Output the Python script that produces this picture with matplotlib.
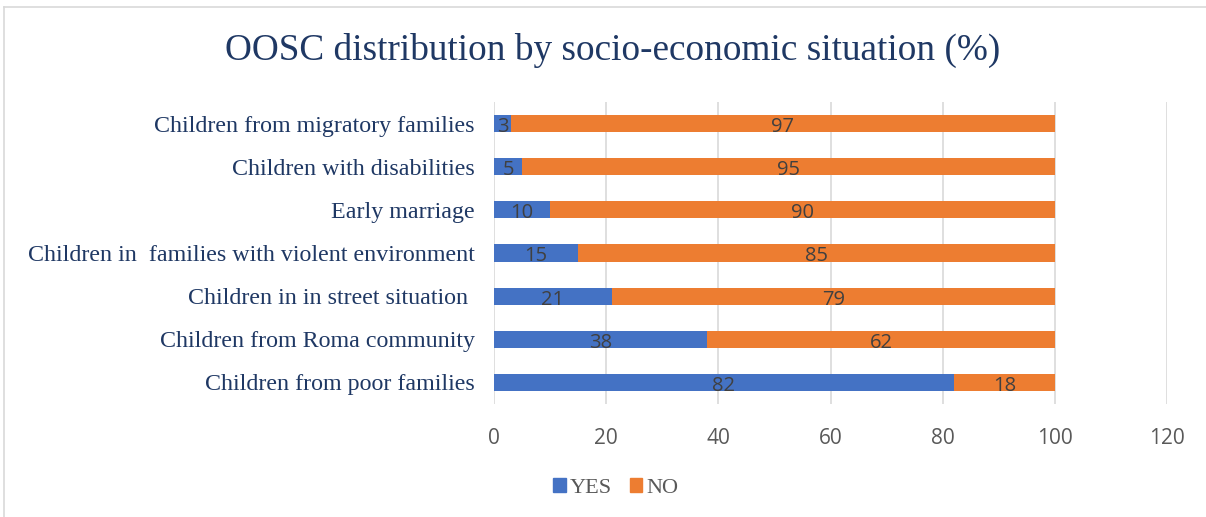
import matplotlib
matplotlib.use("Agg")
import matplotlib.pyplot as plt
from matplotlib.patches import Rectangle
from matplotlib.lines import Line2D

categories = [
    "Children from poor families",
    "Children from Roma community",
    "Children in in street situation ",
    "Children in  families with violent environment",
    "Early marriage",
    "Children with disabilities",
    "Children from migratory families",
]
yes_values = [82, 38, 21, 15, 10, 5, 3]
no_values = [18, 62, 79, 85, 90, 95, 97]
x_ticks = [0, 20, 40, 60, 80, 100, 120]

BLUE = "#4472C4"
ORANGE = "#ED7D31"
NAVY = "#1F3864"
GRID = "#D9D9D9"
TICK = "#595959"
LABEL = "#404040"

fig = plt.figure(figsize=(12.06, 5.17), dpi=100)
fig.patch.set_facecolor("white")

# outer chart frame
fig.add_artist(Line2D([4 / 1206, 1.0], [1 - 7 / 517] * 2, color=GRID, lw=1.2,
                      transform=fig.transFigure))
fig.add_artist(Line2D([4 / 1206] * 2, [0, 1 - 7 / 517], color=GRID, lw=1.2,
                      transform=fig.transFigure))

ax = fig.add_axes([494 / 1206, 1 - 404 / 517, (1167 - 494) / 1206, (404 - 102) / 517])
y = list(range(len(categories)))
h = 0.4
bars_yes = ax.barh(y, yes_values, height=h, color=BLUE, zorder=3)
bars_no = ax.barh(y, no_values, left=yes_values, height=h, color=ORANGE, zorder=3)

for bars in (bars_yes, bars_no):
    anns = ax.bar_label(bars, labels=[str(int(b.get_width())) for b in bars],
                        label_type="center", color=LABEL, fontsize=14.5,
                        family="Open Sans", zorder=4)
    for a in anns:
        a.xyann = (0, -2.5)

ax.set_xlim(0, 120)
ax.set_ylim(-0.5, len(categories) - 0.5)
ax.set_xticks(x_ticks)
ax.set_xticklabels([str(t) for t in x_ticks], color=TICK, fontsize=15, family="Open Sans")
ax.tick_params(axis="x", length=0, pad=17)
ax.set_yticks(y)
ax.set_yticklabels(categories, color=NAVY, fontsize=17.3, family="Liberation Serif")
ax.tick_params(axis="y", length=0, pad=14)
ax.grid(axis="x", color=GRID, lw=1.2, zorder=0)
for s in ax.spines.values():
    s.set_visible(False)

fig.text(613 / 1206, 1 - 50 / 517, "OOSC distribution by socio-economic situation (%)",
         ha="center", va="center", color=NAVY, fontsize=26.8, family="Liberation Serif")

handles = [Rectangle((0, 0), 1, 1, color=BLUE), Rectangle((0, 0), 1, 1, color=ORANGE)]
fig.legend(handles, ["YES", "NO"], loc="center", bbox_to_anchor=(616 / 1206, 1 - 488 / 517),
           ncol=2, frameon=False, handlelength=0.55, handleheight=0.55, handletextpad=0.2,
           columnspacing=0.8, prop={"family": "Liberation Serif", "size": 16},
           labelcolor=TICK)

fig.savefig("out.png", dpi=100, facecolor="white")
